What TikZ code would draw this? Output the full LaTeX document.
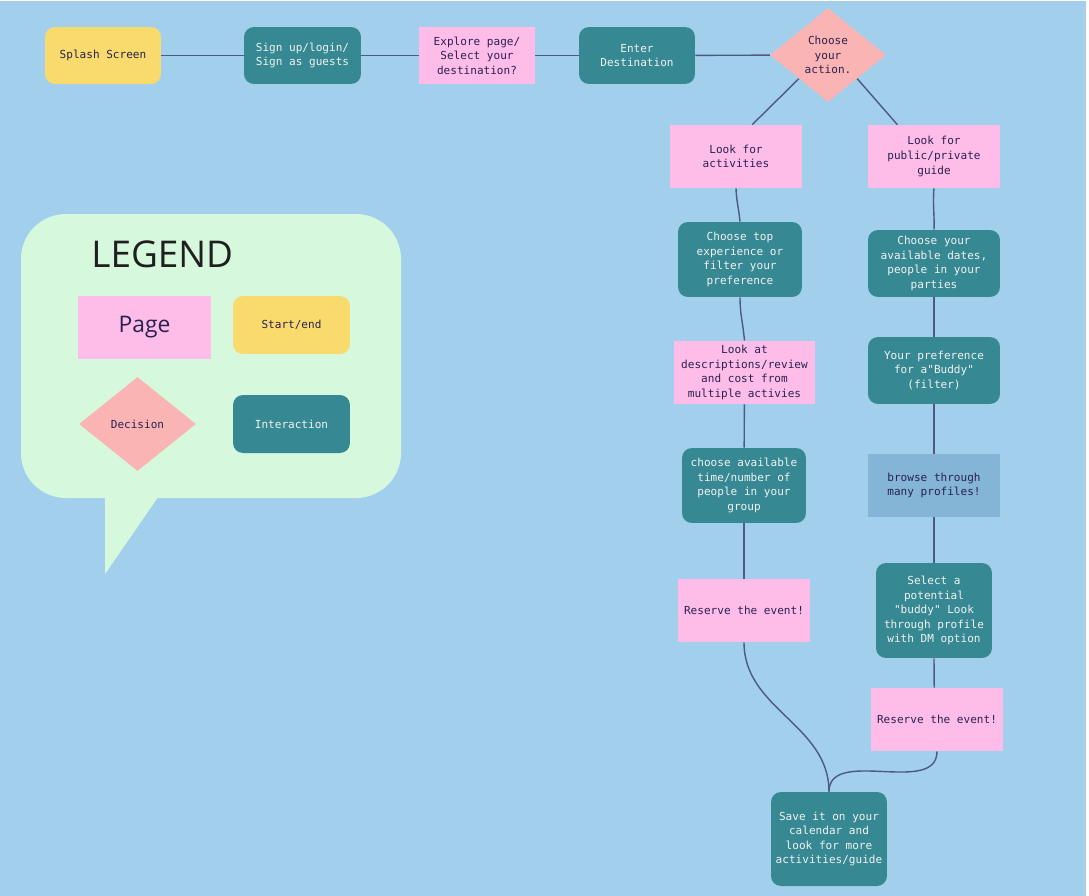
\documentclass[tikz,border=0pt]{standalone}
\usepackage{fontspec}
\setmainfont{Open Sans}
\setmonofont{DejaVu Sans Mono}
\usetikzlibrary{positioning,shapes.geometric}
\definecolor{bgblue}{HTML}{A2D0EC}
\definecolor{pagepink}{HTML}{FEBDE9}
\definecolor{tealbox}{HTML}{368892}
\definecolor{startyellow}{HTML}{F9DA6D}
\definecolor{decsalmon}{HTML}{FBB4B4}
\definecolor{steelbox}{HTML}{84B5D6}
\definecolor{bubblegreen}{HTML}{D6F9DD}
\definecolor{linkblue}{HTML}{4E5886}
\definecolor{inkdark}{HTML}{2A2150}
\definecolor{inklight}{HTML}{F2F2F2}

\begin{document}
\begin{tikzpicture}[x=0.02cm, y=-0.02cm,
  flow/.style={font=\ttfamily\fontsize{6.3}{8.3}\selectfont, align=center, inner sep=0pt},
  page/.style={flow, fill=pagepink, text=inkdark, minimum width=2.64cm, minimum height=1.26cm},
  act/.style={flow, fill=tealbox, text=inklight, rounded corners=0.2cm, minimum width=2.64cm, minimum height=1.34cm},
  term/.style={flow, fill=startyellow, text=inkdark, rounded corners=0.2cm, minimum width=2.32cm, minimum height=1.14cm},
  choice/.style={flow, diamond, fill=decsalmon, text=inkdark, minimum width=2.32cm, minimum height=1.88cm},
  link/.style={draw=linkblue, line width=0.8pt}
]
  \useasboundingbox (0,0) rectangle (1089,896);
  \fill[white] (0,0) rectangle (1089,896);
  \fill[bgblue] (0,1) rectangle (1086,896);

  % top row
  \node[term] (splash) at (103,55.5) {Splash Screen};
  \node[act, minimum width=2.34cm, minimum height=1.14cm] (signup) at (302.5,55.5) {Sign up/login/\\Sign as guests};
  \node[page, minimum width=2.32cm, minimum height=1.14cm] (explore) at (477,55.5) {Explore page/\\Select your\\destination?};
  \node[act, minimum width=2.32cm, minimum height=1.14cm] (enter) at (637,55.5) {Enter\\Destination};
  \node[choice] (action) at (828,55) {Choose\\your\\action.};

  \draw[link] (splash) -- (signup);
  \draw[link] (signup) -- (explore);
  \draw[link] (explore) -- (enter);
  \draw[link] (enter) -- (action);

  % activities branch
  \node[page] (lookact) at (736,156.5) {Look for\\activities};
  \node[act, minimum width=2.48cm, minimum height=1.5cm] (topexp) at (740,259.5) {Choose top\\experience or\\filter your\\preference};
  \node[page, minimum width=2.82cm] (lookat) at (744.5,372.5) {Look at\\descriptions/review\\and cost from\\multiple activies};
  \node[act, minimum width=2.48cm, minimum height=1.5cm] (availtime) at (744,485.5) {choose available\\time/number of\\people in your\\group};
  \node[page] (reserveact) at (744,610.5) {Reserve the event!};

  % guide branch
  \node[page] (lookguide) at (934,156.5) {Look for\\public/private\\guide};
  \node[act] (dates) at (934,263.5) {Choose your\\available dates,\\people in your\\parties};
  \node[act] (buddypref) at (934,370.5) {Your preference\\for a"Buddy"\\(filter)};
  \node[page, fill=steelbox] (browse) at (934,485.5) {browse through\\many profiles!};
  \node[act, minimum width=2.32cm, minimum height=1.9cm] (pickbuddy) at (934,610.5) {Select a\\potential\\"buddy" Look\\through profile\\with DM option};
  \node[page] (reserveguide) at (937,719.5) {Reserve the event!};

  \node[act, minimum width=2.32cm, minimum height=1.88cm] (save) at (829,839) {Save it on your\\calendar and\\look for more\\activities/guide};

  \draw[link] (action.south west) -- (lookact.63);
  \draw[link] (action.south east) -- (lookguide.139);
  \draw[link] (lookact.south) to[out=-88, in=95] (topexp.north);
  \draw[link] (topexp.south) to[out=-90, in=95] (lookat.north);
  \draw[link] (lookat) -- (availtime);
  \draw[link] (availtime) -- (reserveact);
  \draw[link] (reserveact.south) to[out=-90, in=90] (save.north);
  \draw[link] (lookguide.south) to[out=-95, in=88] (dates.north);
  \draw[link] (dates) -- (buddypref);
  \draw[link] (buddypref) -- (browse);
  \draw[link] (browse) -- (pickbuddy);
  \draw[link] (pickbuddy.south) -- (reserveguide.95);
  \draw[link] (reserveguide.south) to[out=-90, in=90] (save.north);

  % legend
  \fill[bubblegreen, rounded corners=0.9cm] (21,214) rectangle (401,498);
  \fill[bubblegreen] (105,490) -- (105,574) -- (163,490) -- cycle;
  \node[anchor=west, inner sep=0pt, font=\fontsize{21}{25}\selectfont, text=black!88] (legendtitle) at (91,254) {LEGEND};
  \node[page, minimum width=2.66cm, font=\fontsize{13}{15}\selectfont] (keypage) at (144.5,327.5) {Page};
  \node[term, minimum width=2.34cm, minimum height=1.16cm] (keystart) at (291.5,325) {Start/end};
  \node[choice, minimum width=2.34cm] (keydecision) at (137.5,424) {Decision};
  \node[act, minimum width=2.34cm, minimum height=1.16cm] (keyinteract) at (291.5,424) {Interaction};
\end{tikzpicture}
\end{document}
